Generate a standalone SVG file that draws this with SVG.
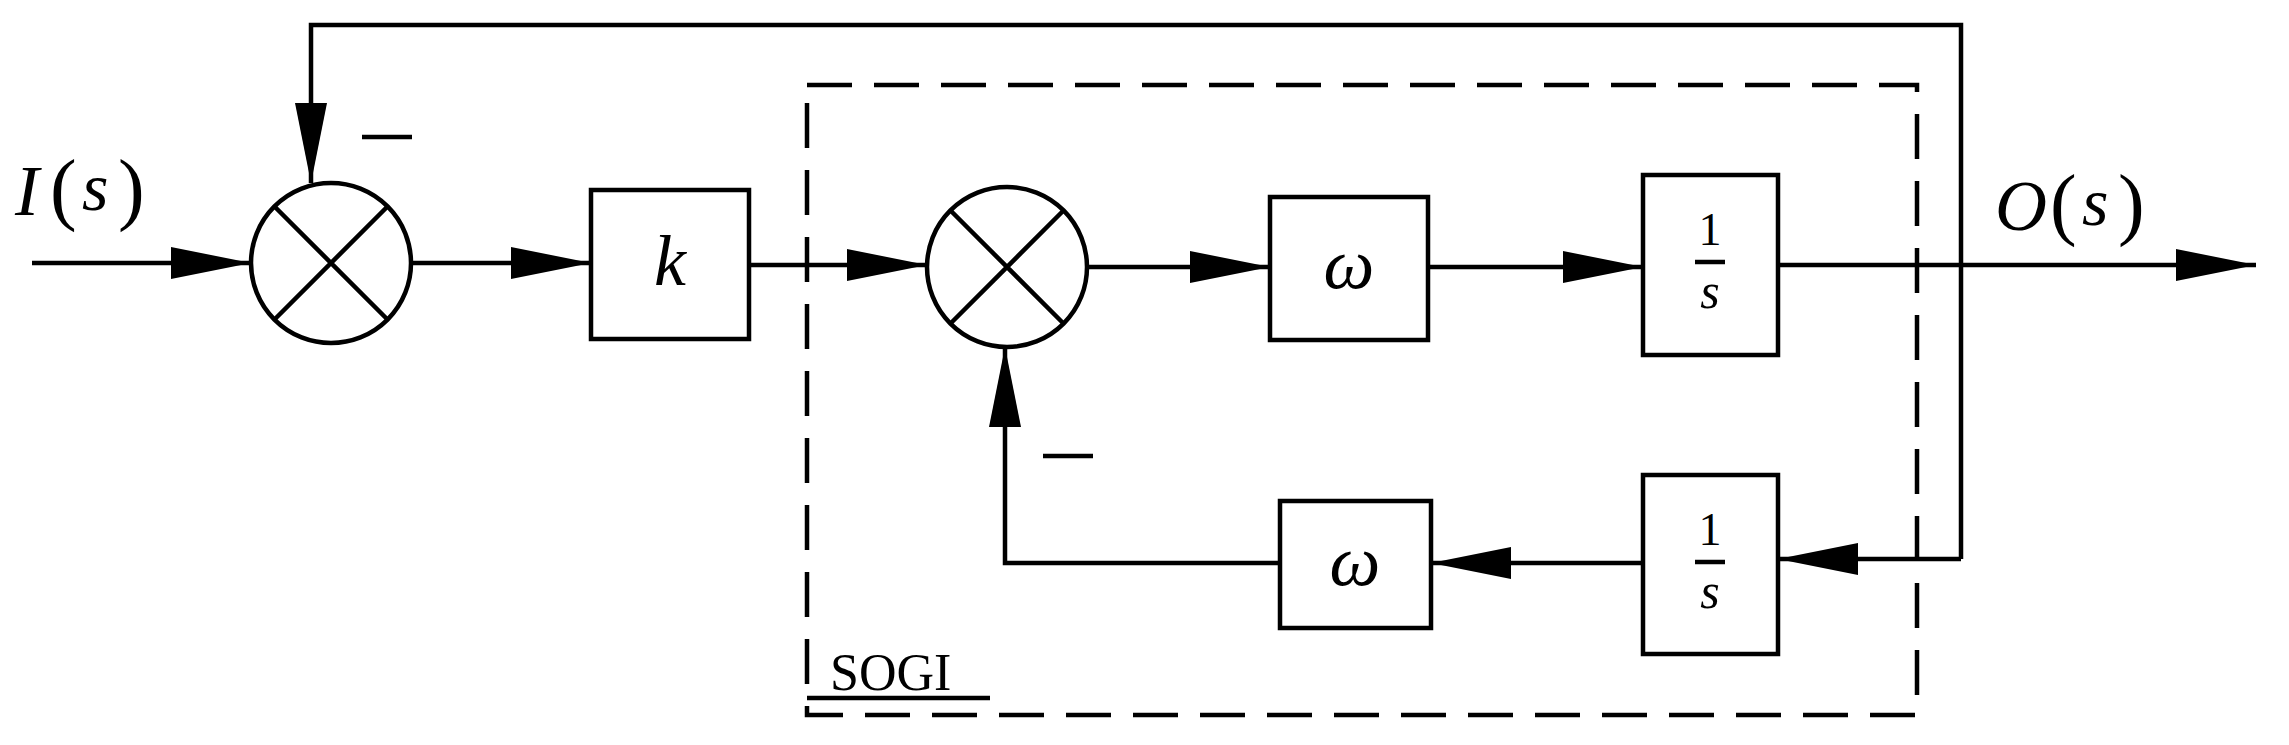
<svg xmlns="http://www.w3.org/2000/svg" width="2289" height="745" viewBox="0 0 2289 745">
<style>
.l{stroke:#000;stroke-width:4.5;fill:none}
.b{stroke:#000;stroke-width:4.5;fill:#fff}
.t{font-family:"Liberation Serif",serif;font-style:italic;fill:#000}
</style>
<defs>
<marker id="a" markerUnits="userSpaceOnUse" markerWidth="80" markerHeight="40" refX="80" refY="20" orient="auto"><path d="M0,4 L80,20 L0,36 Z" fill="#000"/></marker>
</defs>
<rect width="2289" height="745" fill="#fff"/>
<g id="sogi"><rect x="807" y="85" width="1110" height="630" fill="none" stroke="#000" stroke-width="4.5" stroke-dasharray="45,22"/>
<text x="830" y="690" font-family="Liberation Serif,serif" font-size="52">SOGI</text><line x1="807" y1="698" x2="990" y2="698" class="l" stroke-width="3"/></g>
<g id="connectors">
<path class="l" d="M32,263 H251" marker-end="url(#a)"/>
<path class="l" d="M1961,559 V25 H311 V183" marker-end="url(#a)"/>
<path class="l" d="M411,263 H591" marker-end="url(#a)"/>
<path class="l" d="M749,265 H927" marker-end="url(#a)"/>
<path class="l" d="M1087,267 H1270" marker-end="url(#a)"/>
<path class="l" d="M1428,267 H1643" marker-end="url(#a)"/>
<path class="l" d="M1778,265 H2256" marker-end="url(#a)"/>
<path class="l" d="M1961,559 H1778" marker-end="url(#a)"/>
<path class="l" d="M1643,563 H1431" marker-end="url(#a)"/>
<path class="l" d="M1280,563 H1005 V347" marker-end="url(#a)"/>
</g>
<g id="sum1"><circle cx="331" cy="263" r="80" class="b"/><path class="l" d="M274,206 L388,320 M388,206 L274,320"/></g>
<g id="sum2"><circle cx="1007" cy="267" r="80" class="b"/><path class="l" d="M950,210 L1064,324 M1064,210 L950,324"/></g>
<g id="k"><rect x="591" y="190" width="158" height="149" class="b"/><text class="t" x="670" y="285" font-size="72" text-anchor="middle">k</text></g>
<g id="w1"><rect x="1270" y="197" width="158" height="143" class="b"/><text class="t" x="1349" y="288" font-size="72" text-anchor="middle">ω</text></g>
<g id="int1"><rect x="1643" y="175" width="135" height="180" class="b"/><text x="1710" y="245" font-family="Liberation Serif,serif" font-size="46" text-anchor="middle">1</text><line x1="1695" y1="262" x2="1725" y2="262" class="l" stroke-width="3"/><text class="t" x="1710" y="308" font-size="50" text-anchor="middle">s</text></g>
<g id="int2"><rect x="1643" y="475" width="135" height="179" class="b"/><text x="1710" y="545" font-family="Liberation Serif,serif" font-size="46" text-anchor="middle">1</text><line x1="1695" y1="562" x2="1725" y2="562" class="l" stroke-width="3"/><text class="t" x="1710" y="608" font-size="50" text-anchor="middle">s</text></g>
<g id="w2"><rect x="1280" y="501" width="151" height="127" class="b"/><text class="t" x="1355" y="585" font-size="72" text-anchor="middle">ω</text></g>
<g id="labels">
<text class="t" x="15" y="215" font-size="72">I</text><text x="50" y="215" font-family="Liberation Serif,serif" font-size="80">(</text><text class="t" x="82" y="210" font-size="68">s</text><text x="118" y="215" font-family="Liberation Serif,serif" font-size="80">)</text>
<text class="t" x="1995" y="230" font-size="72">O</text><text x="2050" y="230" font-family="Liberation Serif,serif" font-size="80">(</text><text class="t" x="2082" y="225" font-size="68">s</text><text x="2118" y="230" font-family="Liberation Serif,serif" font-size="80">)</text>
<line x1="362" y1="137" x2="412" y2="137" class="l"/>
<line x1="1043" y1="456" x2="1093" y2="456" class="l"/>
</g>
</svg>
